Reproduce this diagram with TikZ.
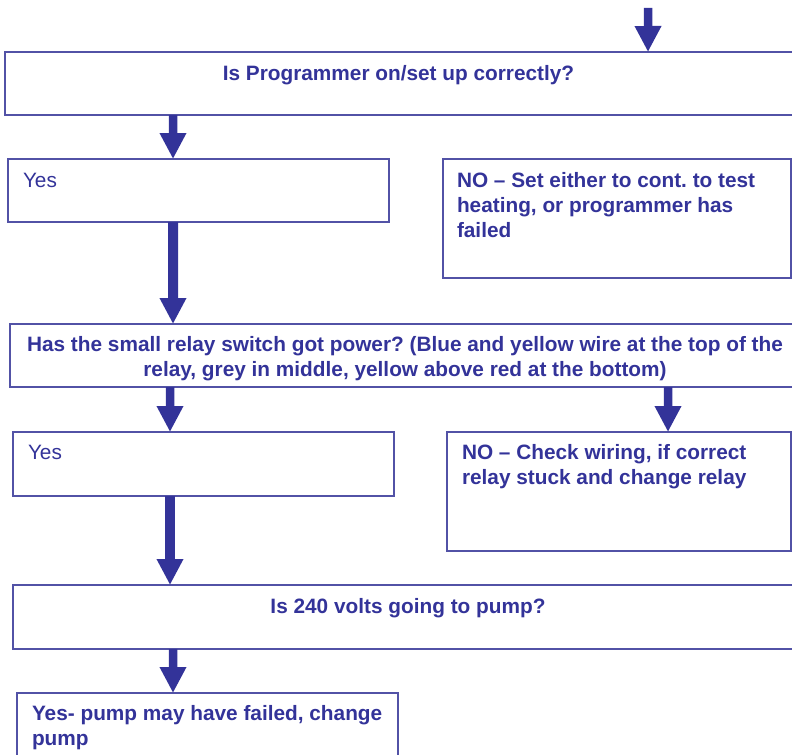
\documentclass[tikz,border=0pt]{standalone}
\usepackage{fontspec}
\setmainfont{Liberation Sans}
\usetikzlibrary{arrows.meta}
\definecolor{dblue}{HTML}{333399}
\definecolor{bline}{HTML}{5252A6}
\newcommand{\txtfont}{\frenchspacing\fontsize{20.8bp}{25bp}\selectfont}
\begin{document}
\begin{tikzpicture}[x=1bp,y=-1bp,
  box/.style={draw=bline,line width=1.4bp,inner sep=0pt,outer sep=0pt,anchor=north west},
  lbl/.style={text=dblue,inner sep=0pt,outer sep=0pt,font=\txtfont\bfseries},
  plainlbl/.style={text=dblue,inner sep=0pt,outer sep=0pt,font=\txtfont},
  fat/.style={draw=dblue,line width=8.5bp,-{Triangle[width=25bp,length=26bp]}},
  fatter/.style={draw=dblue,line width=10bp,-{Triangle[width=25bp,length=26bp]}}
]
\useasboundingbox (0,0) rectangle (792,755);
\clip (0,0) rectangle (792,755);

% boxes
\node[box,minimum width=800bp,minimum height=63bp] (b1) at (5,52) {};
\node[box,minimum width=381bp,minimum height=63bp] (b2) at (8,159) {};
\node[box,minimum width=348bp,minimum height=119bp] (b3) at (443,159) {};
\node[box,minimum width=800bp,minimum height=63bp] (b4) at (10,324) {};
\node[box,minimum width=381bp,minimum height=64bp] (b5) at (13,432) {};
\node[box,minimum width=344bp,minimum height=119bp] (b6) at (447,432) {};
\node[box,minimum width=800bp,minimum height=64bp] (b7) at (13,585) {};
\node[box,minimum width=381bp,minimum height=80bp] (b8) at (17,693) {};

% texts
\node[lbl,anchor=north] (t1) at ([xshift=393.5bp,yshift=-10.5bp]b1.north west) {\strut Is Programmer on/set up correctly?};
\node[plainlbl,anchor=north west] (t2) at ([xshift=15bp,yshift=-10.5bp]b2.north west) {\strut Yes};
\node[lbl,anchor=north west,align=left] (t3) at ([xshift=14bp,yshift=-10.5bp]b3.north west)
  {\strut NO -- Set either to cont. to test\\\strut heating, or programmer has\\\strut failed};
\node[lbl,anchor=north,align=center] (t4) at ([xshift=395bp,yshift=-9.5bp]b4.north west)
  {\strut Has the small relay switch got power? (Blue and yellow wire at the top of the\\\strut relay, grey in middle, yellow above red at the bottom)};
\node[plainlbl,anchor=north west] (t5) at ([xshift=15bp,yshift=-9.5bp]b5.north west) {\strut Yes};
\node[lbl,anchor=north west,align=left] (t6) at ([xshift=15bp,yshift=-9.5bp]b6.north west)
  {\strut NO -- Check wiring, if correct\\\strut relay stuck and change relay};
\node[lbl,anchor=north] (t7) at ([xshift=395bp,yshift=-10.5bp]b7.north west) {\strut Is 240 volts going to pump?};
\node[lbl,anchor=north west,align=left] (t8) at ([xshift=15bp,yshift=-9.5bp]b8.north west)
  {\strut Yes- pump may have failed, change\\\strut pump};

% connectors
\coordinate (start) at (648,8);
\draw[fat] (start) -- ([xshift=643bp]b1.north west);
\draw[fat] ([xshift=168bp]b1.south west) -- ([xshift=165bp]b2.north west);
\draw[fatter] ([xshift=165bp]b2.south west) -- ([xshift=163bp]b4.north west);
\draw[fat] ([xshift=160bp]b4.south west) -- ([xshift=157bp]b5.north west);
\draw[fat] ([xshift=658bp]b4.south west) -- ([xshift=221bp]b6.north west);
\draw[fatter] ([xshift=157bp]b5.south west) -- ([xshift=157bp]b7.north west);
\draw[fat] ([xshift=160bp]b7.south west) -- ([xshift=156bp]b8.north west);
\end{tikzpicture}
\end{document}
